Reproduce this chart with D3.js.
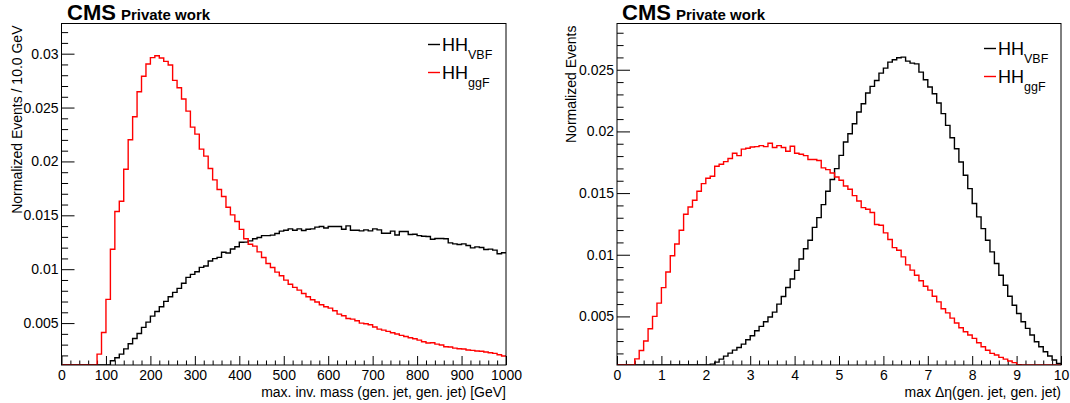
<!DOCTYPE html>
<html>
<head>
<meta charset="utf-8">
<script src="https://cdn.jsdelivr.net/npm/d3@7"></script>
<style>
  body { margin: 0; background: #fff; }
  text { font-family: "Liberation Sans", Arial, Helvetica, sans-serif; }
</style>
</head>
<body>
<script>
// ---- data: normalized events per bin (100 bins each) ----
const massVBF = [
  0, 0, 0, 0, 0, 0, 0, 0, 0, 0,
  0.0008, 0.0015, 0.00178, 0.00212, 0.00261, 0.00308, 0.00357, 0.00404, 0.0046, 0.00509,
  0.00565, 0.00608, 0.00652, 0.00701, 0.00745, 0.00785, 0.00822, 0.00869, 0.00924, 0.00952,
  0.00977, 0.01017, 0.0103, 0.01076, 0.01098, 0.0111, 0.01157, 0.01151, 0.01188, 0.01209,
  0.0125, 0.01251, 0.01263, 0.01282, 0.01294, 0.01312, 0.01312, 0.01316, 0.01331, 0.01353,
  0.01362, 0.01374, 0.01362, 0.01374, 0.01359, 0.01371, 0.01374, 0.0139, 0.01396, 0.01383,
  0.01396, 0.01396, 0.01396, 0.01371, 0.01402, 0.01362, 0.01362, 0.01356, 0.01365, 0.01356,
  0.01374, 0.01365, 0.01334, 0.01334, 0.01353, 0.01318, 0.0135, 0.0135, 0.01322, 0.01325,
  0.01312, 0.01306, 0.01303, 0.01278, 0.01285, 0.01285, 0.01282, 0.01244, 0.01235, 0.01229,
  0.01235, 0.0122, 0.01198, 0.01207, 0.01201, 0.01183, 0.01186, 0.01177, 0.01143, 0.01152
];
const massGGF = [
  0, 0, 0, 0, 0, 0, 0, 0.0004, 0.00212, 0.00413,
  0.0072, 0.01185, 0.01535, 0.01631, 0.01928, 0.02201, 0.02414, 0.02647, 0.0279, 0.02904,
  0.02963, 0.02981, 0.0296, 0.02929, 0.02895, 0.02752, 0.02684, 0.02579, 0.02467, 0.02318,
  0.02253, 0.02114, 0.02049, 0.01934, 0.01829, 0.01739, 0.01674, 0.01575, 0.01504, 0.01442,
  0.0137, 0.01282, 0.01232, 0.01214, 0.01161, 0.01109, 0.01053, 0.01016, 0.00973, 0.00939,
  0.00899, 0.00861, 0.00831, 0.00806, 0.00775, 0.00744, 0.00716, 0.00695, 0.0067, 0.00651,
  0.00639, 0.00614, 0.00583, 0.00568, 0.00543, 0.00537, 0.00522, 0.005, 0.00494, 0.00485,
  0.00463, 0.00444, 0.00435, 0.00423, 0.0041, 0.00398, 0.00386, 0.00376, 0.00364, 0.00355,
  0.00342, 0.00327, 0.00315, 0.00318, 0.00305, 0.00296, 0.0028, 0.00278, 0.00268, 0.00262,
  0.00259, 0.0025, 0.00247, 0.00241, 0.00238, 0.00231, 0.00225, 0.00219, 0.00206, 0.00194
];
const detaVBF = [
  0, 0, 0, 0, 0, 0, 0, 0, 0, 0,
  0, 0, 0, 0, 0, 0, 0, 0.0003, 0.0005, 0.0007,
  0.0009, 0.00113, 0.00129, 0.00154, 0.00178, 0.00202, 0.00227, 0.00248, 0.00275, 0.00311,
  0.00343, 0.00384, 0.00419, 0.00457, 0.00495, 0.00535, 0.006, 0.00662, 0.00735, 0.00803,
  0.00873, 0.00965, 0.01049, 0.01117, 0.01222, 0.01301, 0.01406, 0.01515, 0.0161, 0.01698,
  0.01806, 0.01914, 0.01981, 0.02062, 0.02157, 0.02224, 0.02311, 0.02365, 0.02413, 0.02473,
  0.02513, 0.02562, 0.02581, 0.02597, 0.02602, 0.0257, 0.02554, 0.02548, 0.02481, 0.02419,
  0.0236, 0.02306, 0.0223, 0.02144, 0.02049, 0.01949, 0.0186, 0.01752, 0.01644, 0.01536,
  0.01415, 0.01307, 0.01212, 0.01118, 0.01023, 0.00929, 0.00834, 0.00753, 0.00664, 0.00591,
  0.00524, 0.00457, 0.00403, 0.00349, 0.00295, 0.00254, 0.00214, 0.00179, 0.00146, 0.00119
];
const detaGGF = [
  0, 0, 0, 0.0004, 0.00156, 0.00224, 0.003, 0.004, 0.005, 0.00608,
  0.00733, 0.0086, 0.00992, 0.01087, 0.01198, 0.01328, 0.01387, 0.01442, 0.01515, 0.01577,
  0.0162, 0.01636, 0.01718, 0.01734, 0.01755, 0.0178, 0.01823, 0.01804, 0.01856, 0.01864,
  0.01874, 0.01877, 0.01885, 0.01877, 0.01904, 0.01869, 0.01885, 0.01869, 0.01839, 0.0188,
  0.01823, 0.01815, 0.01804, 0.01772, 0.01772, 0.01764, 0.01704, 0.0169, 0.01663, 0.0163,
  0.01604, 0.01558, 0.01531, 0.01479, 0.01436, 0.01382, 0.01369, 0.01342, 0.01245, 0.01239,
  0.01177, 0.01123, 0.01058, 0.01037, 0.00983, 0.00918, 0.00875, 0.00834, 0.00789, 0.00745,
  0.00713, 0.00664, 0.00618, 0.00562, 0.00529, 0.00486, 0.00446, 0.00408, 0.00376, 0.00349,
  0.00322, 0.00287, 0.00254, 0.00225, 0.002, 0.00187, 0.00168, 0.00154, 0.00138, 0.00125,
  0.00108, 0.0009, 0.0007, 0.0005, 0.0004, 0.0003, 0.0002, 0.0001, 0.0001, 0
];

const massTicks = ["0", "100", "200", "300", "400", "500", "600", "700", "800", "900", "1000"];
const detaTicks = ["0", "1", "2", "3", "4", "5", "6", "7", "8", "9", "10"];
const massYTicks = ["0.005", "0.01", "0.015", "0.02", "0.025", "0.03"];
const detaYTicks = ["0.005", "0.01", "0.015", "0.02", "0.025"];
const legendNames = [{ main: "HH", sub: "VBF", color: "#000" }, { main: "HH", sub: "ggF", color: "#ff0000" }];

const FONT = "'Liberation Sans', Arial, Helvetica, sans-serif";

const panels = [
  {
    left: 61.5, right: 506, top: 23.5, bottom: 365,
    xDomain: [0, 1000], yDomain: [0.00111, 0.0328],
    xTicks: massTicks, yTicks: massYTicks, xMinorStep: 20,
    vbf: massVBF, ggf: massGGF,
    xTitle: "max. inv. mass (gen. jet, gen. jet) [GeV]",
    yTitle: "Normalized Events / 10.0 GeV", yTitleX: 22,
    legendX: 428, legendY: 44.5, cmsX: 67,
  },
  {
    left: 617, right: 1061, top: 23.5, bottom: 365,
    xDomain: [0, 10], yDomain: [0.00106, 0.02875],
    xTicks: detaTicks, yTicks: detaYTicks, xMinorStep: 0.2,
    vbf: detaVBF, ggf: detaGGF,
    xTitle: "max \u0394\u03b7(gen. jet, gen. jet)",
    yTitle: "Normalized Events", yTitleX: 576,
    legendX: 984, legendY: 48.5, cmsX: 622,
  },
];

const svg = d3.select("body").append("svg")
  .attr("width", 1070)
  .attr("height", 403);

panels.forEach((p, pi) => {
  const x = d3.scaleLinear().domain(p.xDomain).range([p.left, p.right]);
  const y = d3.scaleLinear().domain(p.yDomain).range([p.bottom, p.top]);
  const g = svg.append("g");

  // clip for histograms
  const clipId = "clip" + pi;
  svg.append("clipPath").attr("id", clipId)
    .append("rect")
    .attr("x", p.left).attr("y", p.top - 1)
    .attr("width", p.right - p.left).attr("height", p.bottom - p.top + 1);

  // minor y ticks
  const yMajor = p.yTicks.map(Number);
  const yMinor = d3.range(2, Math.floor(p.yDomain[1] * 1000) + 1)
    .map(d => d / 1000)
    .filter(v => !yMajor.some(m => Math.abs(m - v) < 1e-9));
  g.append("g")
    .attr("transform", `translate(${p.left},0)`)
    .call(d3.axisLeft(y).tickValues(yMinor).tickSize(-6.6).tickFormat(""))
    .call(a => a.select(".domain").remove());

  g.append("g")
    .attr("transform", `translate(${p.left},0)`)
    .call(d3.axisLeft(y).tickValues(yMajor).tickSize(-13).tickPadding(3)
      .tickFormat((d, i) => p.yTicks[i]))
    .call(a => a.select(".domain").remove())
    .call(a => a.selectAll("text").attr("font-family", FONT).attr("font-size", 14).attr("fill", "#000"));

  // x ticks
  const xMajor = p.xTicks.map(Number);
  const nMinor = Math.round((p.xDomain[1] - p.xDomain[0]) / p.xMinorStep);
  const xMinor = d3.range(0, nMinor + 1).map(i => p.xDomain[0] + i * p.xMinorStep)
    .filter(v => !xMajor.some(m => Math.abs(m - v) < 1e-9));
  g.append("g")
    .attr("transform", `translate(0,${p.bottom})`)
    .call(d3.axisBottom(x).tickValues(xMinor).tickSize(-4.5).tickFormat(""))
    .call(a => a.select(".domain").remove());

  g.append("g")
    .attr("transform", `translate(0,${p.bottom})`)
    .call(d3.axisBottom(x).tickValues(xMajor).tickSize(-9).tickPadding(5)
      .tickFormat((d, i) => p.xTicks[i]))
    .call(a => a.select(".domain").remove())
    .call(a => a.selectAll("text").attr("font-family", FONT).attr("font-size", 14).attr("fill", "#000"));

  // histograms
  const nb = p.vbf.length;
  const bw = (p.xDomain[1] - p.xDomain[0]) / nb;
  const clamp = v => Math.max(p.yDomain[0], Math.min(p.yDomain[1], v));
  const stepLine = d3.line()
    .x(d => x(d[0]))
    .y(d => y(clamp(d[1])))
    .curve(d3.curveStepAfter);
  const toPts = arr => {
    const pts = arr.map((v, i) => [p.xDomain[0] + i * bw, v]);
    pts.push([p.xDomain[1], arr[nb - 1]]);
    return pts;
  };
  [[p.vbf, "#000"], [p.ggf, "#ff0000"]].forEach(([arr, col]) => {
    g.append("path")
      .attr("clip-path", `url(#${clipId})`)
      .attr("d", stepLine(toPts(arr)))
      .attr("fill", "none")
      .attr("stroke", col)
      .attr("stroke-width", 1.4);
  });

  // frame
  g.append("rect")
    .attr("x", p.left).attr("y", p.top)
    .attr("width", p.right - p.left).attr("height", p.bottom - p.top)
    .attr("fill", "none").attr("stroke", "#000").attr("stroke-width", 1);

  // axis titles
  g.append("text")
    .attr("x", p.right).attr("y", 397)
    .attr("text-anchor", "end")
    .attr("font-family", FONT).attr("font-size", 14)
    .text(p.xTitle);

  g.append("text")
    .attr("transform", `translate(${p.yTitleX},${p.top + 2}) rotate(-90)`)
    .attr("text-anchor", "end")
    .attr("font-family", FONT).attr("font-size", 14)
    .text(p.yTitle);

  // CMS label
  const cms = g.append("text")
    .attr("x", p.cmsX).attr("y", 19.5)
    .attr("font-family", FONT).attr("font-weight", "bold");
  cms.append("tspan").attr("font-size", 22).text("CMS");
  cms.append("tspan").attr("font-size", 15).attr("dx", 5).text("Private work");

  // legend
  legendNames.forEach((l, i) => {
    const ly = p.legendY + i * 28;
    g.append("line")
      .attr("x1", p.legendX).attr("x2", p.legendX + 12)
      .attr("y1", ly).attr("y2", ly)
      .attr("stroke", l.color).attr("stroke-width", 1.4);
    const t = g.append("text")
      .attr("x", p.legendX + 14).attr("y", ly + 6.8)
      .attr("font-family", FONT).attr("font-size", 18);
    t.append("tspan").text(l.main);
    t.append("tspan").attr("font-size", 12.5).attr("dy", 7.3).text(l.sub);
  });
});
</script>
</body>
</html>
